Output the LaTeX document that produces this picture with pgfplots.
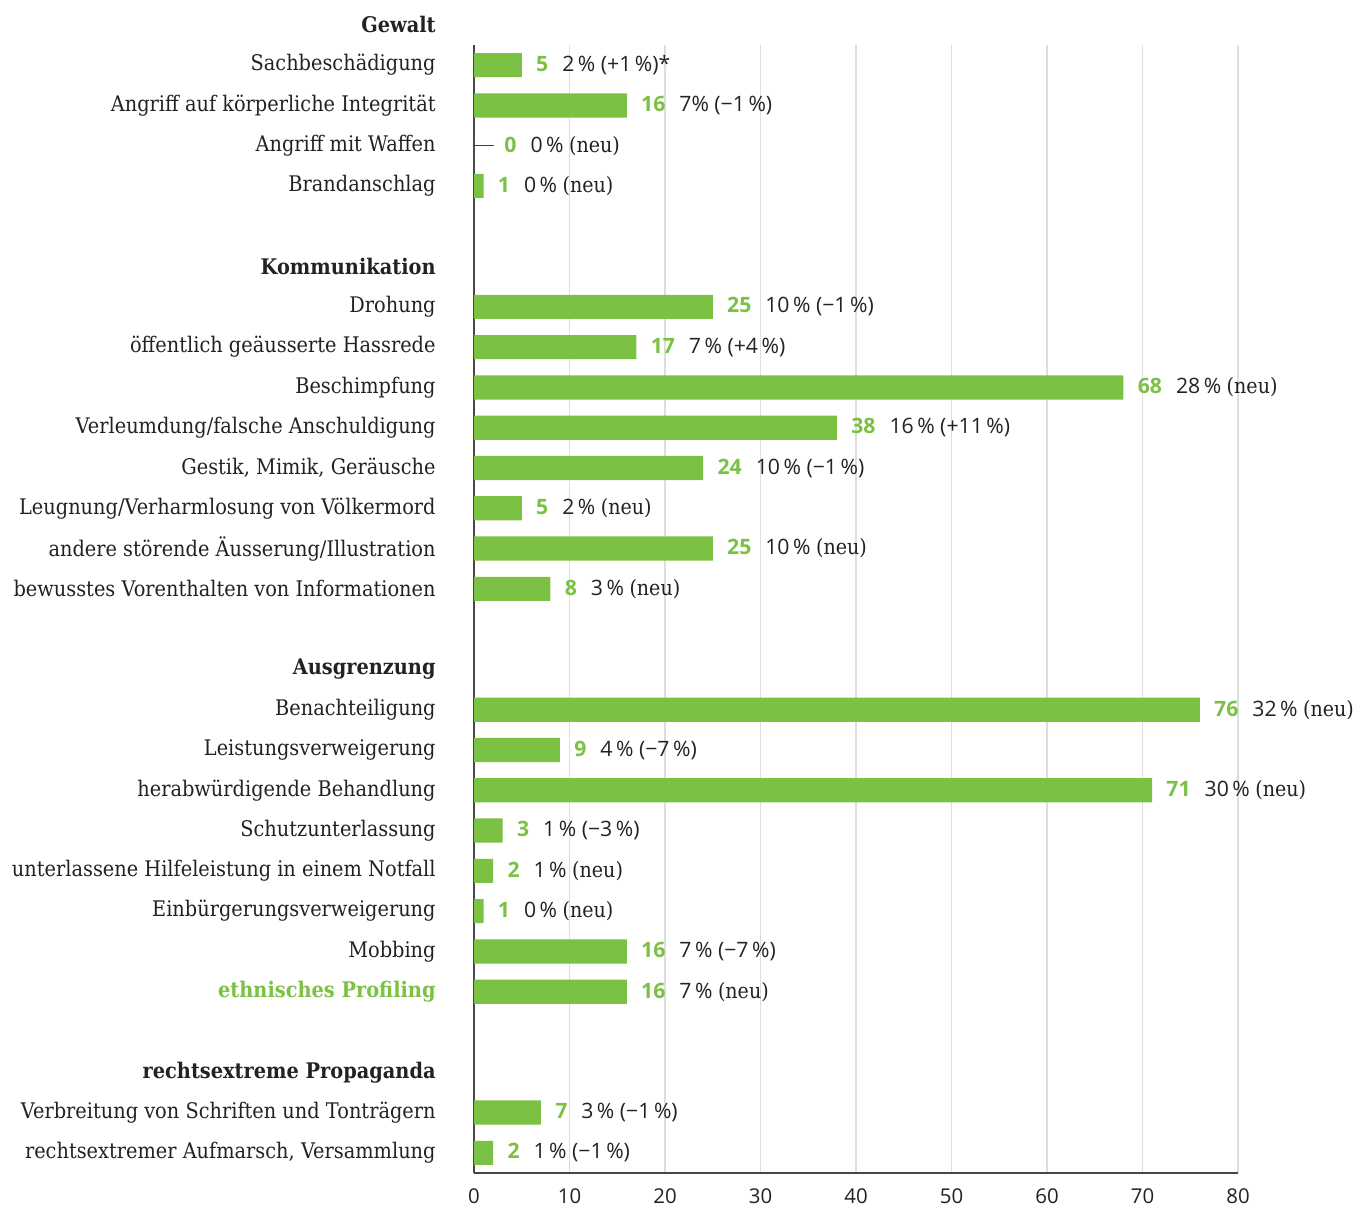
\documentclass[border=0pt]{standalone}
\usepackage{pgfplots}
\pgfplotsset{compat=1.18}
\usepackage{fontspec}
\setmainfont{DejaVu Serif}[FakeStretch=0.9]
\setsansfont{Open Sans}
\definecolor{barg}{HTML}{7BC143}
\definecolor{txt}{HTML}{222222}
\DeclareRobustCommand\lab[2]{\textcolor{barg}{\sffamily\bfseries #1}\hspace{7pt}{\sffamily #2}}
\DeclareRobustCommand\neu{{\rmfamily(neu)}}
\newcommand\labfont{\fontsize{10.75}{13}\selectfont}
\newcommand\valfont{\fontsize{10.6}{13}\selectfont}
\begin{document}
\begin{tikzpicture}
\path[use as bounding box] (0,0) rectangle (682.5pt,604pt);
\begin{axis}[
  at={(237pt,17.5pt)}, anchor=south west,
  scale only axis, width=382pt, height=564pt,
  xmin=0, xmax=80, ymin=0.5, ymax=28.5, y dir=reverse,
  xtick={0,10,...,80}, xticklabels={0,10,20,30,40,50,60,70,80},
  ytick={1,...,28},
  yticklabels={
    Sachbeschädigung,
    Angriff auf körperliche Integrität,
    Angriff mit Waffen,
    Brandanschlag,
    {},
    \textbf{Kommunikation},
    Drohung,
    öffentlich geäusserte Hassrede,
    Beschimpfung,
    Verleumdung/falsche Anschuldigung,
    {Gestik, Mimik, Geräusche},
    Leugnung/Verharmlosung von Völkermord,
    andere störende Äusserung/Illustration,
    bewusstes Vorenthalten von Informationen,
    {},
    \textbf{Ausgrenzung},
    Benachteiligung,
    Leistungsverweigerung,
    herabwürdigende Behandlung,
    Schutzunterlassung,
    unterlassene Hilfeleistung in einem Notfall,
    Einbürgerungsverweigerung,
    Mobbing,
    \textcolor{barg}{\textbf{ethnisches Profiling}},
    {},
    \textbf{rechtsextreme Propaganda},
    Verbreitung von Schriften und Tonträgern,
    {rechtsextremer Aufmarsch, Versammlung}
  },
  major tick length=0pt,
  yticklabel style={font=\rmfamily\labfont, text=txt, inner sep=0pt, xshift=-19pt},
  xticklabel style={font=\sffamily\fontsize{10.2}{12}\selectfont, text=txt, inner sep=0pt, yshift=-7.5pt},
  axis x line*=bottom, axis y line*=left,
  axis line style={-, draw=black!72, line width=1pt},
  xmajorgrids, grid style={draw=black!13, line width=0.6pt},
  clip=false,
]
\addplot[xbar, fill=barg, draw=none, bar width=0.6, bar shift=0pt,
  nodes near coords={\pgfplotspointmeta}, point meta=explicit symbolic,
  nodes near coords align={horizontal},
  every node near coord/.append style={anchor=west, xshift=7pt, inner sep=0pt, text=txt, font=\valfont}]
coordinates {
  (5,1) [\lab{5}{2\,\% (+1\,\%)*}]
  (16,2) [\lab{16}{7\% (−1\,\%)}]
  (0,3) [\hspace{8pt}\lab{0}{0\,\% \neu}]
  (1,4) [\lab{1}{0\,\% \neu}]
  (25,7) [\lab{25}{10\,\% (−1\,\%)}]
  (17,8) [\lab{17}{7\,\% (+4\,\%)}]
  (68,9) [\lab{68}{28\,\% \neu}]
  (38,10) [\lab{38}{16\,\% (+11\,\%)}]
  (24,11) [\lab{24}{10\,\% (−1\,\%)}]
  (5,12) [\lab{5}{2\,\% \neu}]
  (25,13) [\lab{25}{10\,\% \neu}]
  (8,14) [\lab{8}{3\,\% \neu}]
  (76,17) [\lab{76}{32\,\% \neu}]
  (9,18) [\lab{9}{4\,\% (−7\,\%)}]
  (71,19) [\lab{71}{30\,\% \neu}]
  (3,20) [\lab{3}{1\,\% (−3\,\%)}]
  (2,21) [\lab{2}{1\,\% \neu}]
  (1,22) [\lab{1}{0\,\% \neu}]
  (16,23) [\lab{16}{7\,\% (−7\,\%)}]
  (16,24) [\lab{16}{7\,\% \neu}]
  (7,27) [\lab{7}{3\,\% (−1\,\%)}]
  (2,28) [\lab{2}{1\,\% (−1\,\%)}]
};
\addplot[draw=black!75, line width=0.6pt, forget plot] coordinates {(0,3) (2.1,3)};
\node[anchor=east, inner sep=0pt, text=txt, font=\rmfamily\bfseries\labfont, xshift=-19pt] at (axis cs:0,0) {Gewalt};
\end{axis}
\end{tikzpicture}
\end{document}
